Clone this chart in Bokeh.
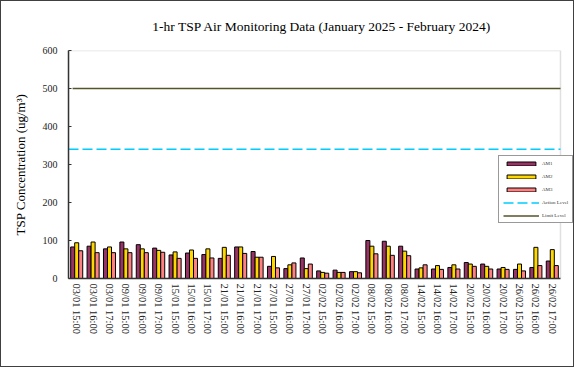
import math
from bokeh.plotting import figure
from bokeh.models import (ColumnDataSource, Range1d, FixedTicker, Legend, LegendItem,
                          BoxAnnotation)
from bokeh.embed import file_html
from bokeh.resources import INLINE

categories = [
    "03/01 15:00", "03/01 16:00", "03/01 17:00",
    "09/01 15:00", "09/01 16:00", "09/01 17:00",
    "15/01 15:00", "15/01 16:00", "15/01 17:00",
    "21/01 15:00", "21/01 16:00", "21/01 17:00",
    "27/01 15:00", "27/01 16:00", "27/01 17:00",
    "02/02 15:00", "02/02 16:00", "02/02 17:00",
    "08/02 15:00", "08/02 16:00", "08/02 17:00",
    "14/02 15:00", "14/02 16:00", "14/02 17:00",
    "20/02 15:00", "20/02 16:00", "20/02 17:00",
    "26/02 15:00", "26/02 16:00", "26/02 17:00",
]
am1 = [83, 85, 78, 96, 89, 80, 62, 67, 63, 53, 83, 71, 32, 26, 54,
       20, 22, 18, 100, 98, 85, 25, 25, 29, 42, 38, 25, 24, 29, 46]
am2 = [94, 96, 83, 78, 78, 74, 70, 75, 78, 82, 83, 56, 58, 36, 26,
       16, 16, 18, 85, 85, 72, 28, 34, 36, 38, 32, 29, 38, 82, 76]
am3 = [73, 68, 68, 68, 68, 69, 53, 53, 54, 61, 66, 56, 28, 41, 38,
       14, 16, 15, 65, 61, 60, 36, 24, 25, 32, 25, 24, 20, 34, 34]
action_level = 340
limit_level = 500
y_ticks = [0, 100, 200, 300, 400, 500, 600]

SERIF = "Liberation Serif"
ACTION_COLOR = "#00CCFF"
LIMIT_COLOR = "#55552A"

n = len(categories)
idx = list(range(n))
bw = 0.245
src = ColumnDataSource(dict(
    x1=[i - bw for i in idx], x2=idx, x3=[i + bw for i in idx],
    am1=am1, am2=am2, am3=am3))

x_lo, x_hi = -0.5, n - 0.5
# the frame extends a bit to the right of the data area so the legend can overhang it
x_range = Range1d(x_lo, x_hi + 0.915)

p = figure(
    x_range=x_range, y_range=(0, 600),
    width=574, height=367, output_backend="svg", toolbar_location=None,
    min_border_left=67, min_border_right=0, min_border_top=49, min_border_bottom=90,
    title="1-hr TSP Air Monitoring Data (January 2025 - February 2024)",
)
p.styles = {"border": "1px solid #404040"}
p.title.text_font = SERIF
p.title.text_font_size = "13.5px"
p.title.text_font_style = "normal"
p.title.align = "center"
p.title.vertical_align = "top"
p.title.text_color = "black"
p.title.standoff = 29

p.xgrid.visible = False
p.ygrid.visible = False
p.outline_line_color = None
p.background_fill_color = "white"
p.border_fill_color = "white"

# plot-area border (data area only)
p.add_layout(BoxAnnotation(left=x_lo, right=x_hi, bottom=0, top=600,
                           fill_alpha=0, line_color="#999999", line_width=1.5,
                           level="underlay"))

r1 = p.vbar(x="x1", top="am1", width=bw, source=src,
            fill_color="#993366", line_color="black", line_width=1)
r2 = p.vbar(x="x2", top="am2", width=bw, source=src,
            fill_color="#FFD700", line_color="black", line_width=1)
r3 = p.vbar(x="x3", top="am3", width=bw, source=src,
            fill_color="#FF8080", line_color="black", line_width=1)

ra = p.line(x=[x_lo, x_hi], y=[action_level, action_level],
            line_color=ACTION_COLOR, line_width=1.5, line_dash="10 4")
rl = p.line(x=[x_lo + 0.25, x_hi], y=[limit_level, limit_level],
            line_color=LIMIT_COLOR, line_width=1.5)

legend = Legend(items=[
    LegendItem(label="AM1", renderers=[r1]),
    LegendItem(label="AM2", renderers=[r2]),
    LegendItem(label="AM3", renderers=[r3]),
    LegendItem(label="Action Level", renderers=[ra]),
    LegendItem(label="Limit Level", renderers=[rl]),
], location=(430, 55))
legend.label_text_font = SERIF
legend.label_text_font_size = "5px"
legend.label_text_color = "#333333"
legend.label_height = 6
legend.label_width = 10
legend.glyph_height = 5
legend.glyph_width = 36
legend.spacing = 7
legend.padding = 4
legend.margin = 0
legend.label_standoff = 3
legend.border_line_color = "#333333"
legend.border_line_width = 1
legend.background_fill_alpha = 1
p.add_layout(legend, "center")

p.yaxis.ticker = y_ticks
p.yaxis.axis_label = "TSP Concentration (ug/m\u00b3)"
p.yaxis.axis_label_text_font = SERIF
p.yaxis.axis_label_text_font_size = "13px"
p.yaxis.axis_label_text_font_style = "normal"
p.yaxis.axis_label_text_color = "black"
p.yaxis.axis_label_standoff = 12
p.yaxis.major_label_text_font = SERIF
p.yaxis.major_label_text_font_size = "10px"
p.yaxis.major_label_text_color = "#222222"
p.yaxis.major_label_standoff = 11
p.yaxis.major_tick_out = 0
p.yaxis.major_tick_in = 3
p.yaxis.major_tick_line_color = "#333333"
p.yaxis.minor_tick_out = 0
p.yaxis.minor_tick_in = 0
p.yaxis.axis_line_color = "#333333"
p.yaxis.axis_line_width = 1.5

p.xaxis.ticker = FixedTicker(ticks=idx)
p.xaxis.major_label_overrides = {i: c for i, c in zip(idx, categories)}
p.xaxis.bounds = (x_lo, x_hi)
p.xaxis.major_label_orientation = -math.pi / 2
p.xaxis.major_label_text_font = SERIF
p.xaxis.major_label_text_font_size = "10.5px"
p.xaxis.major_label_text_color = "#222222"
p.xaxis.major_label_standoff = 5
p.xaxis.major_tick_out = 0
p.xaxis.major_tick_in = 0
p.xaxis.minor_tick_out = 0
p.xaxis.minor_tick_in = 0
p.xaxis.axis_line_color = "#333333"
p.xaxis.axis_line_width = 1.5

open("out.html", "w").write(file_html(p, INLINE))
